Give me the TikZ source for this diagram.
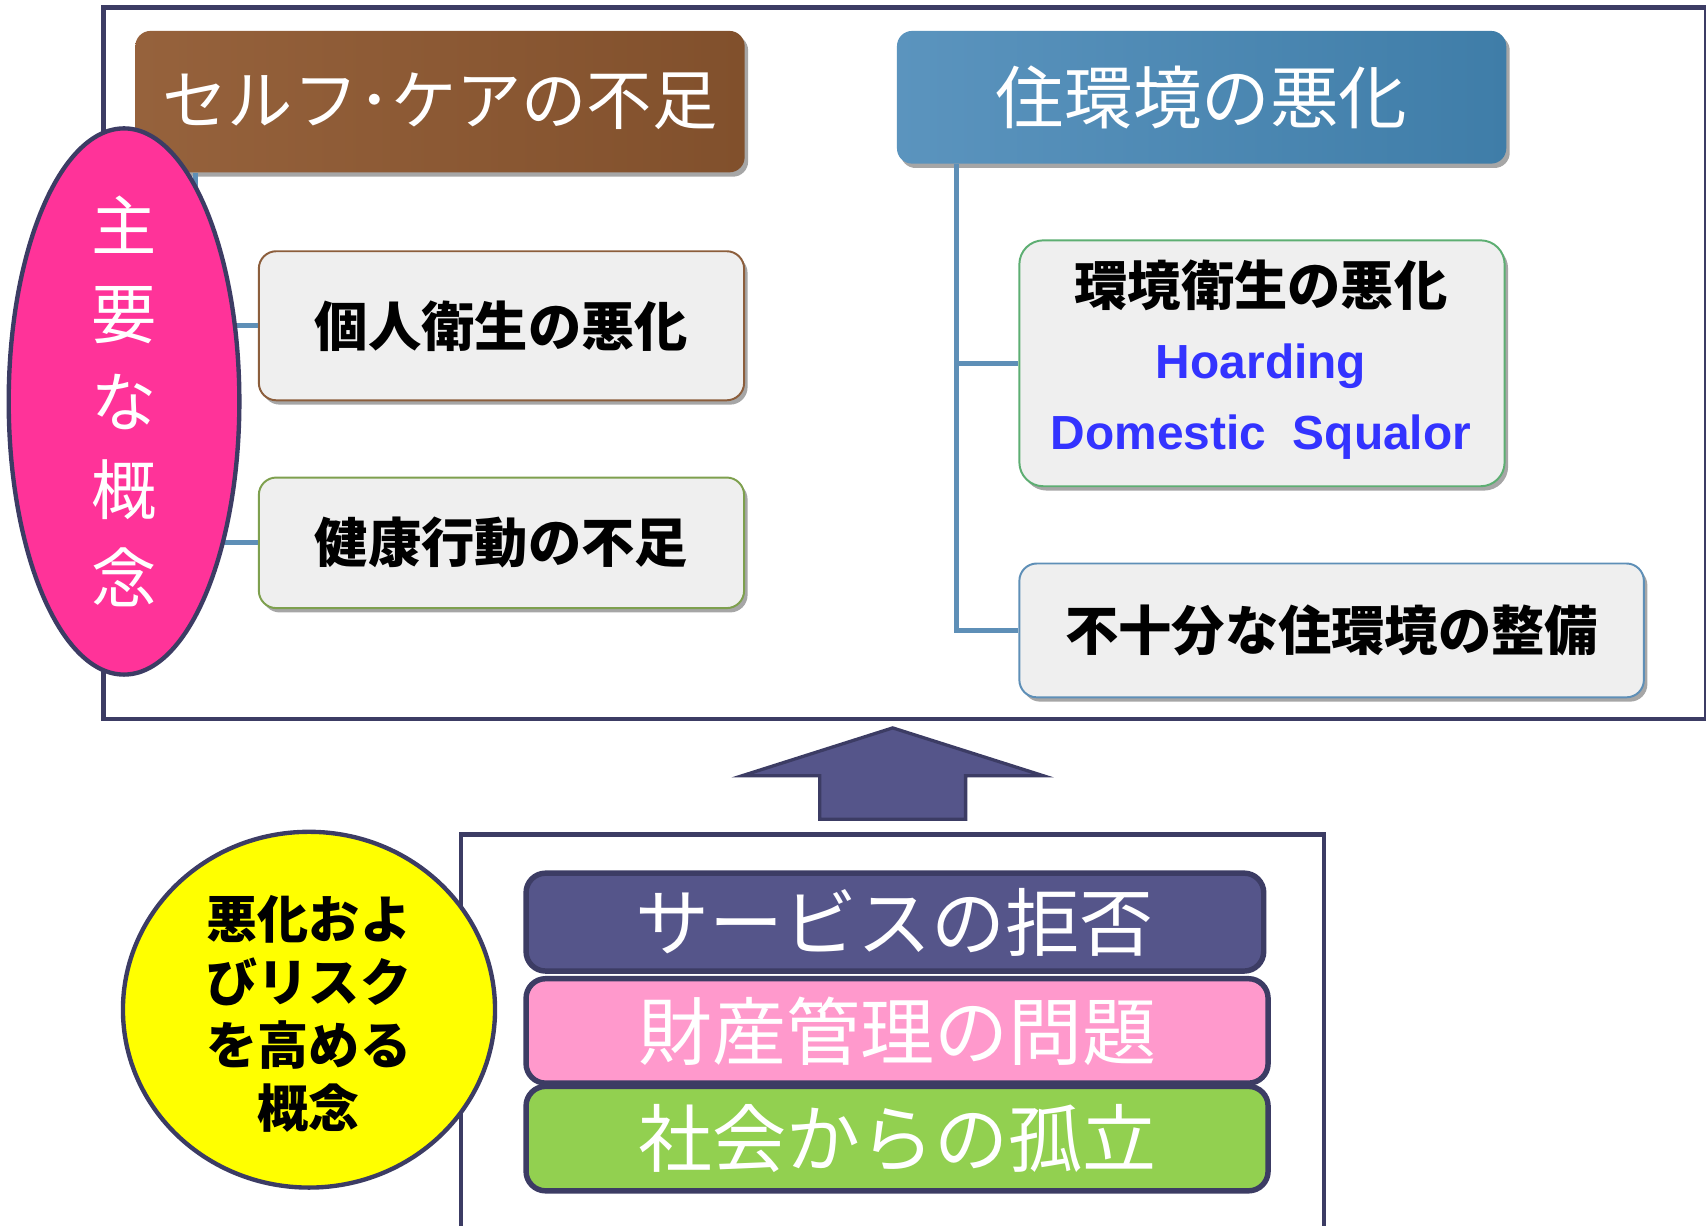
\documentclass[tikz,border=0pt]{standalone}
\usepackage{fontspec}
\newfontfamily\jp{Noto Sans CJK JP}
\newfontfamily\lsans{Liberation Sans}
\usetikzlibrary{shapes.geometric,shadows,calc}
\definecolor{navy}{HTML}{3C3C64}
\definecolor{brownL}{HTML}{96623C}
\definecolor{brownR}{HTML}{81502C}
\definecolor{blueL}{HTML}{5B94BE}
\definecolor{blueR}{HTML}{3F7DA8}
\definecolor{connblue}{HTML}{5E8FB7}
\definecolor{boxgray}{HTML}{EFEFEF}
\definecolor{brownb}{HTML}{8C5E3C}
\definecolor{oliveb}{HTML}{7EA04E}
\definecolor{greenb}{HTML}{5DAE72}
\definecolor{blueb}{HTML}{5E8FB7}
\definecolor{hotpink}{HTML}{FF3399}
\definecolor{arrowc}{HTML}{55558A}
\definecolor{purplebar}{HTML}{55558A}
\definecolor{pinkbar}{HTML}{FF99CC}
\definecolor{greenbar}{HTML}{92D050}
\definecolor{hoard}{HTML}{3333FF}
\definecolor{pureyellow}{RGB}{255,255,0}
\begin{document}
\begin{tikzpicture}[x=0.5pt,y=-0.5pt,
  frame/.style={draw=navy,line width=2pt,fill=white,inner sep=0pt,anchor=north west},
  shad/.style={drop shadow={shadow xshift=1.6pt,shadow yshift=-2pt,opacity=0.35,fill=black}},
  hdr/.style={rounded corners=7pt,anchor=north west,text=white,inner sep=0pt,shad},
  sub/.style={rounded corners=8pt,anchor=north west,fill=boxgray,line width=0.9pt,inner sep=0pt,
    font=\jp\bfseries\fontsize{24.5}{30}\selectfont,shad},
  conn/.style={draw=connblue,line width=2.2pt},
  bar/.style={rounded corners=9pt,anchor=north west,draw=navy,line width=2.5pt,text=white,inner sep=0pt,
    font=\jp\fontsize{34}{40}\selectfont},
  blob/.style={ellipse,draw=navy,line width=2pt,inner sep=0pt,align=center}]
\useasboundingbox (0,0) rectangle (1568,1126);
% frames
\node[frame,minimum width=736.5pt,minimum height=327pt] (top) at (93,5) {};
\node[frame,minimum width=396.5pt,minimum height=182.5pt] (bot) at (422,765) {};
% headers
\node[hdr,left color=brownL,right color=brownR,minimum width=280pt,minimum height=65pt,
  font=\jp\fontsize{30}{36}\selectfont] (self) at (124,28) {セルフ･ケアの不足};
\node[hdr,left color=blueL,right color=blueR,minimum width=280pt,minimum height=61pt,
  font=\jp\fontsize{31.5}{38}\selectfont] (env0) at (824,28) {住環境の悪化};
% sub boxes
\node[sub,draw=brownb,minimum width=223pt,minimum height=68.5pt] (hyg) at (237,230) {個人衛生の悪化};
\node[sub,draw=oliveb,minimum width=223pt,minimum height=60pt] (act) at (237,438) {健康行動の不足};
\node[sub,draw=greenb,minimum width=223pt,minimum height=113pt,rounded corners=11pt] (san) at (936,220) {};
\node[sub,draw=blueb,minimum width=287pt,minimum height=61.5pt] (hous) at (936,517) {不十分な住環境の整備};
\node[font=\jp\bfseries\fontsize{24.5}{30}\selectfont] (san1) at (1159,262) {環境衛生の悪化};
\node[font=\lsans\bfseries\fontsize{22}{26}\selectfont,text=hoard] (san2) at (1159,337) {Hoarding};
\node[font=\lsans\bfseries\fontsize{22}{26}\selectfont,text=hoard] (san3) at (1159,402) {Domestic\ \ Squalor};
% connectors
\draw[conn] (self.south west) ++(56,0) |- (hyg.west);
\draw[conn] (self.south west) ++(56,0) |- (act.west);
\draw[conn] (env0.south west) ++(55,0) |- (san.west);
\draw[conn] (env0.south west) ++(55,0) |- (hous.west);
% main concept ellipse
\node[blob,fill=hotpink,minimum width=106pt,minimum height=251pt] (main) at (114,369) {};
\node[text=white,align=center,inner sep=0pt,font=\jp\fontsize{30}{40.5}\selectfont] (maint) at (main.center) {主\\要\\な\\概\\念};
% block arrow
\draw[draw=navy,line width=1.5pt,fill=arrowc,line join=miter]
  (bot.north) ++(-67,-12) -- ++(0,-40) -- ++(-71.5,0) -- ++(138.5,-44) -- ++(138.5,44) -- ++(-71.5,0) -- ++(0,40) -- cycle;
% bars
\node[bar,fill=purplebar,minimum width=339pt,minimum height=45pt] (svc) at (481,800) {サービスの拒否};
\node[bar,fill=pinkbar,minimum width=341pt,minimum height=48pt] (prop) at (481,897) {財産管理の問題};
\node[bar,fill=greenbar,minimum width=341pt,minimum height=48pt] (iso) at (481,996) {社会からの孤立};
% risk ellipse
\node[blob,fill=pureyellow,minimum width=171pt,minimum height=163.5pt] (risk) at (284,928) {};
\node[align=center,inner sep=0pt,font=\jp\bfseries\fontsize{23.5}{29}\selectfont] (riskt) at ([yshift=-2pt]risk.center) {悪化およ\\びリスク\\を高める\\概念};
\end{tikzpicture}
\end{document}
